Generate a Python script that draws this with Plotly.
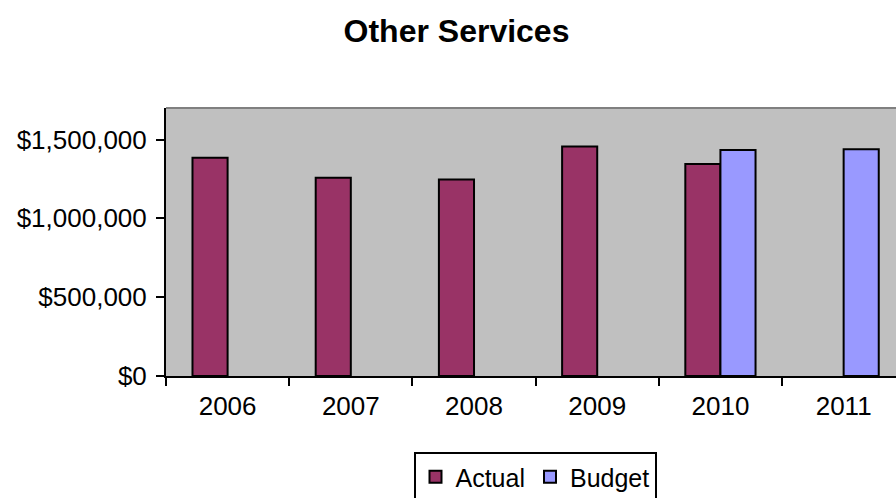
import plotly.graph_objects as go

years = ["2006", "2007", "2008", "2009", "2010", "2011"]
actual = [1384000, 1257000, 1246000, 1456000, 1344000, None]
budget = [None, None, None, None, 1433000, 1439000]

FONT = "Liberation Sans, Arial, sans-serif"

fig = go.Figure()
fig.add_trace(go.Bar(
    name="Actual", x=years, y=actual,
    marker=dict(color="#993366", line=dict(color="black", width=2)),
))
fig.add_trace(go.Bar(
    name="Budget", x=years, y=budget,
    marker=dict(color="#9999FF", line=dict(color="black", width=2)),
))

fig.update_layout(
    width=896, height=498,
    margin=dict(l=166, r=0, t=108, b=122),
    paper_bgcolor="white",
    plot_bgcolor="#C0C0C0",
    barmode="group",
    bargap=0.43,
    bargroupgap=0,
    font=dict(family=FONT, size=26, color="black"),
    title=dict(
        text="<b>Other Services</b>",
        font=dict(family=FONT, size=32, color="black"),
        x=456.5 / 896, xref="container", xanchor="center",
        y=1 - 31 / 498, yref="container", yanchor="middle",
    ),
    legend=dict(
        orientation="h",
        x=535 / 896, xref="container", xanchor="center",
        y=1 - 452 / 498, yref="container", yanchor="top",
        bordercolor="black", borderwidth=2,
        bgcolor="white",
        font=dict(family=FONT, size=25),
        tracegroupgap=0,
    ),
    showlegend=True,
)

fig.update_xaxes(
    range=[-0.5, 5.425],
    showline=True, linecolor="black", linewidth=2,
    ticks="outside", ticklen=8, tickwidth=2, tickcolor="black",
    tickson="boundaries",
    showgrid=False,
    ticklabelstandoff=6,
)
fig.update_yaxes(
    range=[0, 1700000],
    dtick=500000,
    tickprefix="$", tickformat=",.0f",
    showline=True, linecolor="black", linewidth=2,
    ticks="outside", ticklen=8, tickwidth=2, tickcolor="black",
    showgrid=False, zeroline=False,
    ticklabelstandoff=4,
)

# gray frame line along the top of the plot area
fig.add_shape(type="line", xref="paper", yref="paper",
              x0=0, x1=1, y0=1, y1=1,
              line=dict(color="#808080", width=2))

fig.write_html("out.html")
